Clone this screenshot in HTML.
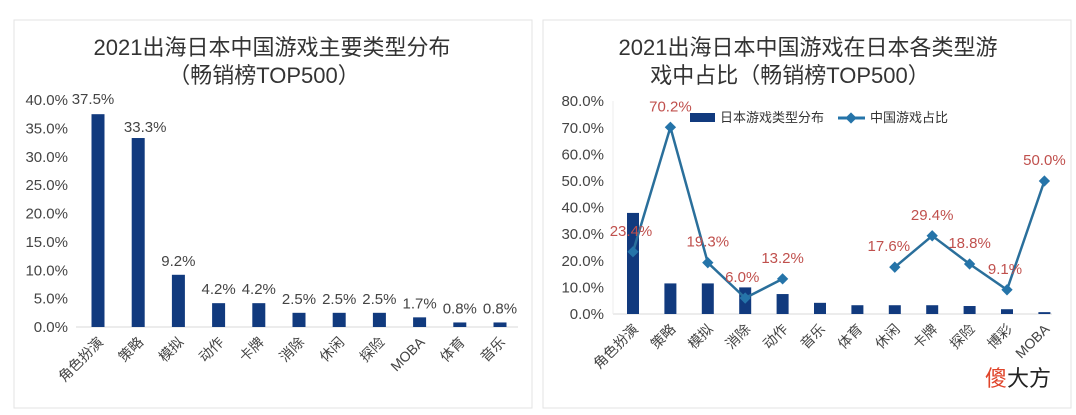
<!DOCTYPE html>
<html><head><meta charset="utf-8"><style>
body{margin:0;width:1076px;height:415px;background:#fff;overflow:hidden;font-family:"Liberation Sans","Noto Sans CJK SC",sans-serif}
svg{position:absolute;left:0;top:0}
</style></head><body>
<svg width="1076" height="415">
<rect x="14" y="20" width="518" height="388" fill="#fff" stroke="#e3e3e3"/>
<rect x="543" y="20" width="528" height="388" fill="#fff" stroke="#e3e3e3"/>
<text x="272" y="55" text-anchor="middle" font-size="22" fill="#333">2021出海日本中国游戏主要类型分布</text>
<text x="264" y="83" text-anchor="middle" font-size="22" fill="#333">（畅销榜TOP500）</text>
<text x="808" y="55" text-anchor="middle" font-size="22" fill="#333">2021出海日本中国游戏在日本各类型游</text>
<text x="790" y="83" text-anchor="middle" font-size="22" fill="#333">戏中占比（畅销榜TOP500）</text>
<g id="L"></g><g id="R"></g>
<rect x="690" y="113" width="25" height="9" fill="#113a7e"/>
<text x="720" y="122" font-size="13" fill="#333">日本游戏类型分布</text>
<line x1="838" y1="118" x2="865" y2="118" stroke="#2574a9" stroke-width="3"/>
<rect x="847" y="114" width="8" height="8" fill="#2574a9" transform="rotate(45 851 118)"/>
<text x="870" y="122" font-size="13" fill="#333">中国游戏占比</text>
<text x="985" y="386" font-size="22" fill="#e0442a">傻<tspan fill="#222">大方</tspan></text>
</svg>
<script>
const NS="http://www.w3.org/2000/svg";
function mk(p,t,a,txt){const e=document.createElementNS(NS,t);for(const k in a)e.setAttribute(k,a[k]);if(txt!=null)e.textContent=txt;p.appendChild(e);return e;}
const leftCats=["角色扮演","策略","模拟","动作","卡牌","消除","休闲","探险","MOBA","体育","音乐"];
const leftVals=[37.5,33.3,9.2,4.2,4.2,2.5,2.5,2.5,1.7,0.8,0.8];
const leftTicks=[0,5,10,15,20,25,30,35,40];
const rightCats=["角色扮演","策略","模拟","消除","动作","音乐","体育","休闲","卡牌","探险","博彩","MOBA"];
const rightBars=[38,11.5,11.5,10,7.5,4.2,3.3,3.3,3.3,3,1.8,0.7];
const rightLine=[23.4,70.2,19.3,6.0,13.2,null,null,17.6,29.4,18.8,9.1,50.0];
const rightTicks=[0,10,20,30,40,50,60,70,80];

// left
const L=document.getElementById('L');
const ly=v=>327-v*5.675, lx=i=>98+i*40.2;
mk(L,'line',{x1:76,y1:327,x2:518,y2:327,stroke:'#d9d9d9'});
leftTicks.forEach(t=>{const e=mk(L,'text',{x:68,y:ly(t)+5,'text-anchor':'end','font-size':15,fill:'#444'},t.toFixed(1)+'%');

});
leftVals.forEach((v,i)=>{const r=mk(L,'rect',{x:lx(i)-6.5,y:ly(v),width:13,height:327-ly(v),fill:'#113a7e'});


const t=mk(L,'text',{x:lx(i)+(i==0?-5:i==1?7:0),y:(i<2?ly(v)-6:ly(v)-9)-(i==0?4:0),'text-anchor':'middle','font-size':15,fill:'#444'},v.toFixed(1)+'%');


const c=mk(L,'text',{x:lx(i)+6,y:343,'text-anchor':'end','font-size':14,fill:'#444',transform:`rotate(-45 ${lx(i)+6} 343)`},leftCats[i]);

});

// right
const R=document.getElementById('R');
const ry=v=>314-v*2.66, rx=i=>633+i*37.4;
mk(R,'line',{x1:613,y1:314,x2:1052,y2:314,stroke:'#d9d9d9'});
mk(R,'line',{x1:613,y1:101,x2:613,y2:314,stroke:'#eee'});
rightTicks.forEach(t=>{const e=mk(R,'text',{x:604,y:ry(t)+5,'text-anchor':'end','font-size':15,fill:'#444'},t.toFixed(1)+'%');

});
rightBars.forEach((v,i)=>{const r=mk(R,'rect',{x:rx(i)-6,y:ry(v),width:12,height:314-ry(v),fill:'#113a7e'});


const c=mk(R,'text',{x:rx(i)+6,y:330,'text-anchor':'end','font-size':14,fill:'#444',transform:`rotate(-45 ${rx(i)+6} 330)`},rightCats[i]);

});
let seg=[];
const segs=[];
rightLine.forEach((v,i)=>{if(v==null){if(seg.length)segs.push(seg);seg=[];}else seg.push([rx(i),ry(v)]);});
if(seg.length)segs.push(seg);
segs.forEach(s=>{const p=mk(R,'polyline',{points:s.map(q=>q.join(',')).join(' '),fill:'none',stroke:'#2a6f9b','stroke-width':2.5});

});
rightLine.forEach((v,i)=>{if(v==null)return;const x=rx(i),y=ry(v);
const m=mk(R,'rect',{x:x-4,y:y-4,width:8,height:8,fill:'#2574a9',transform:`rotate(45 ${x} ${y})`});


const t=mk(R,'text',{x:x+(i==0?-2:i==3?-3:i==7?-6:i==10?-2:0),y:y-16,'text-anchor':'middle','font-size':15,fill:'#c0504d'},v.toFixed(1)+'%');

});
</script>
</body></html>
